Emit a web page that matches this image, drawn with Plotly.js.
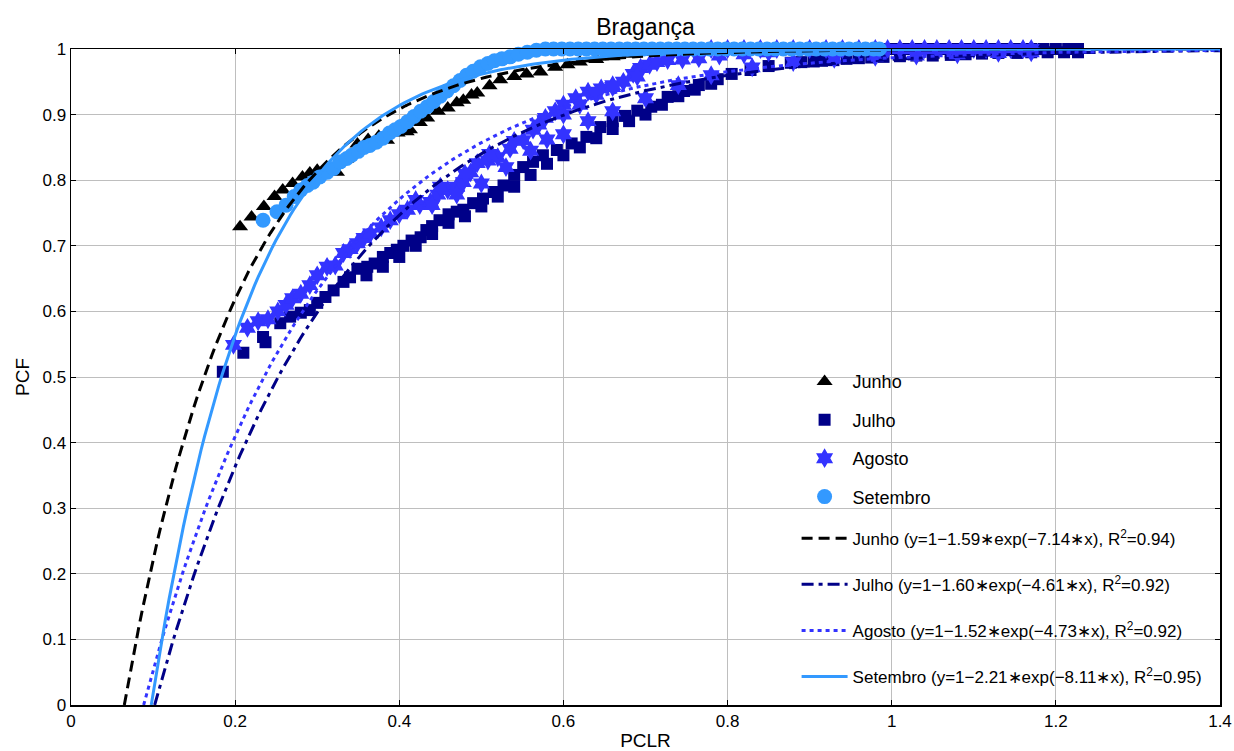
<!DOCTYPE html>
<html>
<head>
<meta charset="utf-8">
<script src="https://cdn.plot.ly/plotly-3.0.1.min.js"></script>
<style>html,body{margin:0;padding:0;background:#fff;}#chart{width:1234px;height:751px;}</style>
</head>
<body>
<div id="chart"></div>
<script>
// ---- Data ----
const junhoX = [0.206,0.220,0.235,0.248,0.258,0.270,0.282,0.291,0.300,0.312,0.324,0.335,0.349,0.362,0.375,0.385,0.398,0.409,0.413,0.425,0.434,0.447,0.459,0.470,0.478,0.488,0.495,0.510,0.523,0.540,0.555,0.572,0.590,0.605,0.620,0.640,0.660,0.680,0.700,0.730,0.760,0.790,0.820,0.850,0.880,0.910,0.930];
const junhoY = [0.729,0.744,0.760,0.775,0.785,0.795,0.805,0.811,0.815,0.818,0.812,0.832,0.855,0.862,0.867,0.861,0.872,0.874,0.877,0.888,0.895,0.905,0.910,0.918,0.922,0.930,0.933,0.944,0.953,0.958,0.962,0.965,0.972,0.976,0.980,0.984,0.988,0.992,0.995,0.997,0.999,1.0,1.0,1.0,1.0,1.0,1.0];

const julhoX = [0.185,0.210,0.234,0.237,0.255,0.267,0.280,0.291,0.300,0.310,0.320,0.332,0.340,0.349,0.361,0.370,0.380,0.389,0.397,0.405,0.415,0.426,0.433,0.440,0.449,0.460,0.470,0.478,0.490,0.502,0.515,0.527,0.540,0.551,0.563,0.575,0.592,0.610,0.628,0.645,0.660,0.675,0.690,0.707,0.727,0.747,0.765,0.788,0.805,0.828,0.850,0.877,0.905,0.929,0.960,0.990,1.030,1.072,1.110,1.153,1.190,1.227,
  0.360,0.380,0.400,0.420,0.440,0.460,0.480,0.500,0.520,0.540,0.560,0.580,0.600,0.620,0.640,0.660,0.680,0.700,0.720,0.740,0.760,0.780,
  0.890,0.915,0.945,0.975,1.010,1.050,1.090,1.130,1.170,1.210,
  0.960,0.975,0.990,1.005,1.020,1.035,1.050,1.065,1.080,1.095,1.110,1.125,1.140,1.155,1.170,1.185,1.200,1.215,1.227];
const julhoY = [0.508,0.537,0.561,0.553,0.582,0.592,0.598,0.602,0.613,0.622,0.632,0.645,0.652,0.665,0.668,0.673,0.683,0.689,0.694,0.700,0.708,0.713,0.724,0.730,0.739,0.748,0.752,0.755,0.765,0.772,0.782,0.792,0.808,0.820,0.828,0.838,0.846,0.856,0.866,0.881,0.890,0.898,0.906,0.912,0.927,0.936,0.945,0.954,0.962,0.968,0.974,0.979,0.981,0.983,0.986,0.988,0.990,0.991,0.993,0.994,0.995,0.995,
  0.655,0.668,0.683,0.700,0.718,0.735,0.745,0.760,0.775,0.790,0.808,0.825,0.838,0.850,0.864,0.878,0.890,0.900,0.915,0.928,0.938,0.947,
  0.980,0.982,0.985,0.987,0.989,0.990,0.992,0.994,0.995,0.995,
  1.0,1.0,1.0,1.0,1.0,1.0,1.0,1.0,1.0,1.0,1.0,1.0,1.0,1.0,1.0,1.0,1.0,1.0,1.0];

const agostoX = [0.198,0.215,0.228,0.240,0.252,0.262,0.270,0.280,0.291,0.300,0.312,0.322,0.332,0.340,0.349,0.357,0.365,0.378,0.389,0.400,0.410,0.425,0.438,0.447,0.459,0.470,0.478,0.487,0.495,0.508,0.520,0.535,0.551,0.563,0.578,0.590,0.600,0.615,0.630,0.646,0.660,0.673,0.685,0.694,0.705,0.714,0.727,0.745,0.765,0.790,0.820,0.850,
  0.420,0.450,0.480,0.510,0.540,0.570,0.600,0.620,0.640,0.660,0.690,
  0.440,0.470,0.500,0.530,0.560,0.580,
  0.600,0.630,0.660,0.700,0.740,0.780,0.830,0.880,0.930,0.980,1.030,1.080,1.130,1.170,
  0.780,0.800,0.820,0.840,0.860,0.880,0.900,0.920,0.940,0.960,0.980,0.995,1.010,1.025,1.040,1.055,1.070,1.085,1.100,1.115,1.130,1.145,1.160,1.170];
const agostoY = [0.549,0.575,0.585,0.588,0.600,0.610,0.620,0.627,0.640,0.655,0.668,0.670,0.689,0.695,0.704,0.712,0.719,0.728,0.739,0.748,0.755,0.762,0.767,0.778,0.785,0.790,0.797,0.812,0.826,0.830,0.835,0.848,0.861,0.877,0.895,0.905,0.915,0.925,0.935,0.940,0.945,0.950,0.962,0.971,0.976,0.980,0.983,0.984,0.986,0.990,0.992,0.995,
  0.770,0.790,0.810,0.840,0.860,0.885,0.900,0.915,0.930,0.942,0.958,
  0.762,0.778,0.795,0.820,0.845,0.862,
  0.870,0.890,0.905,0.925,0.945,0.960,0.972,0.980,0.985,0.988,0.990,0.992,0.994,0.995,
  1.0,1.0,1.0,1.0,1.0,1.0,1.0,1.0,1.0,1.0,1.0,1.0,1.0,1.0,1.0,1.0,1.0,1.0,1.0,1.0,1.0,1.0,1.0,1.0];

const setembroX = [0.234,0.251,0.262,0.272,0.280,0.288,0.295,0.303,0.312,0.320,0.328,0.336,0.342,0.350,0.357,0.364,0.372,0.380,0.388,0.395,0.402,0.410,0.418,0.426,0.434,0.442,0.450,0.458,0.466,0.474,0.482,0.490,0.499,0.508,0.516,0.525,0.535,0.545,0.556,0.567,
  0.578,0.588,0.598,0.608,0.618,0.628,0.638,0.648,0.658,0.668,0.678,0.688,0.698,0.708,0.718,0.728,0.738,0.748,0.758,0.768,0.778,0.788,0.798,0.808,0.818,0.828,0.838,0.848,0.858,0.868,0.878,0.888,0.898,0.908,0.918,0.928,0.938,0.948,0.958,0.968,0.978,0.985];
const setembroY = [0.739,0.752,0.762,0.775,0.785,0.792,0.797,0.805,0.812,0.818,0.828,0.833,0.838,0.844,0.850,0.853,0.858,0.864,0.872,0.877,0.882,0.889,0.897,0.905,0.912,0.920,0.928,0.936,0.944,0.952,0.960,0.966,0.973,0.978,0.982,0.985,0.988,0.992,0.995,0.998,
  1.0,1.0,1.0,1.0,1.0,1.0,1.0,1.0,1.0,1.0,1.0,1.0,1.0,1.0,1.0,1.0,1.0,1.0,1.0,1.0,1.0,1.0,1.0,1.0,1.0,1.0,1.0,1.0,1.0,1.0,1.0,1.0,1.0,1.0,1.0,1.0,1.0,1.0,1.0,1.0,1.0,1.0];

// Fitted models y = 1 - a*exp(-b*x), coefficients as printed in the legend
const months = ["Junho","Julho","Agosto","Setembro"];
const fitA = [1.59, 1.60, 1.52, 2.21];
const fitB = [7.14, 4.61, 4.73, 8.11];
const fitR2 = ["0.94","0.92","0.92","0.95"];

const tickX = [0,0.2,0.4,0.6,0.8,1,1.2,1.4];
const tickY = [0,0.1,0.2,0.3,0.4,0.5,0.6,0.7,0.8,0.9,1];

// ---- Styles ----
const colors = ["#000000","#000088","#3333ff","#3399ff"];
const symbols = ["triangle-up","square","hexagram","circle"];
const msizes = [14,12,15,15];
const dashes = ["11px,6px","12px,5px,4px,5px","4px,4px","solid"];
const FONT = "Liberation Sans, Arial, Helvetica, sans-serif";

const scatterData = [[junhoX,junhoY],[julhoX,julhoY],[agostoX,agostoY],[setembroX,setembroY]];
const traces = [];
scatterData.forEach((d,i)=>{
  traces.push({
    type:"scatter", mode:"markers", x:d[0], y:d[1], name:months[i],
    marker:{symbol:symbols[i], size:msizes[i], color:colors[i], line:{width:0}},
    cliponaxis:false, legend:"legend", legendgroup:"g"+i, hoverinfo:"x+y"
  });
});
months.forEach((m,i)=>{
  const x0 = Math.log(fitA[i])/fitB[i];
  const xs=[], ys=[];
  const n=300;
  for(let k=0;k<=n;k++){ const x=x0+(1.4-x0)*k/n; xs.push(x); ys.push(1-fitA[i]*Math.exp(-fitB[i]*x)); }
  traces.push({
    type:"scatter", mode:"lines", x:xs, y:ys,
    name: m+" (y=1−"+fitA[i].toFixed(2)+"∗exp(−"+fitB[i].toFixed(2)+"∗x), R<sup>2</sup>="+fitR2[i]+")",
    line:{color:colors[i], width:3, dash:dashes[i]},
    legend:"legend2", legendgroup:"l"+i, hoverinfo:"skip"
  });
});

const axisCommon = {
  showline:true, linecolor:"#000", linewidth:1.5, mirror:"ticks",
  ticks:"inside", ticklen:5, tickcolor:"#000", tickwidth:1,
  showgrid:true, gridcolor:"#bebebe", gridwidth:1, zeroline:false, automargin:false,
  tickfont:{family:FONT, size:17, color:"#000"}
};

const legendCommon = {xanchor:"left", yanchor:"top", bgcolor:"rgba(255,255,255,0)",
  borderwidth:0, traceorder:"grouped",
  itemwidth:46, itemclick:false, itemdoubleclick:false};

const layout = {
  width:1234, height:751,
  margin:{l:71, r:14, t:49, b:46, autoexpand:false},
  paper_bgcolor:"#fff", plot_bgcolor:"#fff",
  title:{text:"Bragança", font:{family:FONT, size:23, color:"#000"}, xref:"paper", x:0.5, xanchor:"center", y:0.964, yanchor:"middle"},
  xaxis:Object.assign({}, axisCommon, {range:[0,1.4], tickvals:tickX, ticktext:tickX.map(String),
    title:{text:"PCLR", font:{family:FONT, size:19, color:"#000"}, standoff:5}}),
  yaxis:Object.assign({}, axisCommon, {range:[0,1], tickvals:tickY, ticktext:tickY.map(String),
    title:{text:"PCF", font:{family:FONT, size:19, color:"#000"}, standoff:8}}),
  showlegend:true,
  legend:Object.assign({}, legendCommon, {x:0.6315, y:0.521, tracegroupgap:12, font:{family:FONT, size:18, color:"#000"}}),
  legend2:Object.assign({}, legendCommon, {x:0.6315, y:0.281, tracegroupgap:21, font:{family:FONT, size:17, color:"#000"}}),
  shapes:[{type:"rect", xref:"paper", yref:"paper", x0:0.627, x1:1, y0:0, y1:0.523,
    fillcolor:"#ffffff", line:{width:0}, layer:"between"}]
};

Plotly.newPlot("chart", traces, layout, {displayModeBar:false, staticPlot:true});
</script>
</body>
</html>
